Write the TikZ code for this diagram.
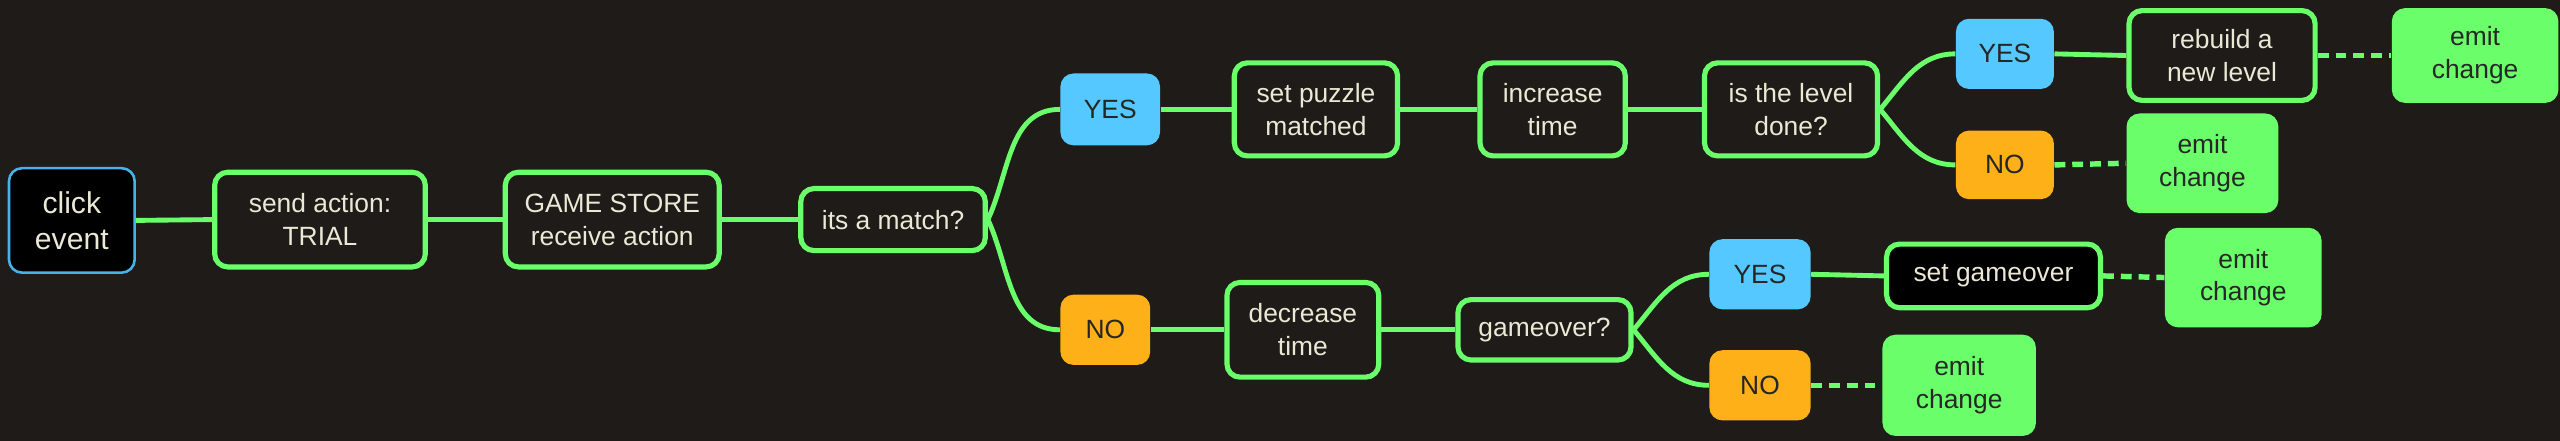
\documentclass[tikz,border=0pt]{standalone}
\usepackage{fontspec}
\setmainfont{Liberation Sans}
\definecolor{bgdark}{RGB}{31,27,24}
\definecolor{linkgreen}{RGB}{106,255,106}
\definecolor{yesblue}{RGB}{85,201,255}
\definecolor{noorange}{RGB}{253,176,24}
\definecolor{lighttext}{RGB}{236,232,214}
\definecolor{clickblue}{RGB}{72,178,232}
\usetikzlibrary{shapes, arrows.meta, positioning, calc}

\tikzset{
  sz/.style 2 args={minimum width=#1*0.02cm, minimum height=#2*0.02cm},
  base/.style={rounded corners=0.16cm, align=center, inner sep=0pt, font=\fontsize{9.2}{11.4}\selectfont},
  box/.style={base, draw=linkgreen, line width=1.8pt, fill=bgdark, text=lighttext},
  blackbox/.style={box, fill=black},
  clickbox/.style={base, draw=clickblue, line width=0.9pt, fill=black, text=lighttext, font=\fontsize{10.5}{12.5}\selectfont},
  yesbox/.style={base, fill=yesblue, text=black!85},
  nobox/.style={base, fill=noorange, text=black!85},
  emitbox/.style={base, fill=linkgreen, text=black!85},
  link/.style={draw=linkgreen, line width=1.7pt},
  dashlink/.style={link, line width=1.9pt, dash pattern=on 3.8pt off 2.4pt}
}

\begin{document}
\begin{tikzpicture}[x=0.02cm, y=-0.02cm]
  \fill[bgdark] (0,0) rectangle (1568,270);
  \useasboundingbox (0,0) rectangle (1568,270);

  % main line
  \node[clickbox, sz={77}{64}] (click) at (44,135) {click\\event};
  \node[box, sz={129}{58}] (send) at (196,134.5) {send action:\\TRIAL};
  \node[box, sz={131}{58}] (store) at (375,134.5) {GAME STORE\\receive action};
  \node[box, sz={113}{38}] (match) at (547,134.5) {its a match?};

  % match branch
  \node[yesbox, sz={61}{44}] (yesmatch) at (680,67) {YES};
  \node[box, sz={100}{57}] (puzzle) at (806,67) {set puzzle\\matched};
  \node[box, sz={89}{57}] (inctime) at (951,67) {increase\\time};
  \node[box, sz={106}{57}] (done) at (1097,67) {is the level\\done?};
  \node[yesbox, sz={60}{43}] (yesdone) at (1228,33) {YES};
  \node[nobox, sz={60}{42}] (nodone) at (1228,101) {NO};
  \node[box, sz={114}{55}] (rebuild) at (1361,34) {rebuild a\\new level};
  \node[emitbox, sz={102}{58}] (emitrebuild) at (1516,34) {emit\\change};
  \node[emitbox, sz={93}{61}] (emitnodone) at (1349,100) {emit\\change};

  % no match branch
  \node[nobox, sz={55}{43}] (nomatch) at (677,202) {NO};
  \node[box, sz={93}{58}] (dectime) at (798,202) {decrease\\time};
  \node[box, sz={106}{37}] (gover) at (946,202) {gameover?};
  \node[yesbox, sz={62}{43}] (yesgover) at (1078,168) {YES};
  \node[nobox, sz={62}{43}] (nogover) at (1078,236) {NO};
  \node[blackbox, sz={131}{39}] (setgover) at (1221,169) {set gameover};
  \node[emitbox, sz={96}{61}] (emitgover) at (1374,170) {emit\\change};
  \node[emitbox, sz={94}{62}] (emitnogover) at (1200,236) {emit\\change};

  % connectors
  \draw[link] (click.east) -- (send.west);
  \draw[link] (send.east) -- (store.west);
  \draw[link] (store.east) -- (match.west);
  \draw[link] (match.east) to[out=65, in=180] (yesmatch.west);
  \draw[link] (match.east) to[out=-65, in=180] (nomatch.west);
  \draw[link] (yesmatch.east) -- (puzzle.west);
  \draw[link] (puzzle.east) -- (inctime.west);
  \draw[link] (inctime.east) -- (done.west);
  \draw[link] (done.east) to[out=50, in=180] (yesdone.west);
  \draw[link] (done.east) to[out=-50, in=180] (nodone.west);
  \draw[link] (yesdone.east) -- (rebuild.west);
  \draw[dashlink] (rebuild.east) -- (emitrebuild.west);
  \draw[dashlink] (nodone.east) -- (emitnodone.west);
  \draw[link] (nomatch.east) -- (dectime.west);
  \draw[link] (dectime.east) -- (gover.west);
  \draw[link] (gover.east) to[out=50, in=180] (yesgover.west);
  \draw[link] (gover.east) to[out=-50, in=180] (nogover.west);
  \draw[link] (yesgover.east) -- (setgover.west);
  \draw[dashlink] (setgover.east) -- (emitgover.west);
  \draw[dashlink] (nogover.east) -- (emitnogover.west);
\end{tikzpicture}
\end{document}
